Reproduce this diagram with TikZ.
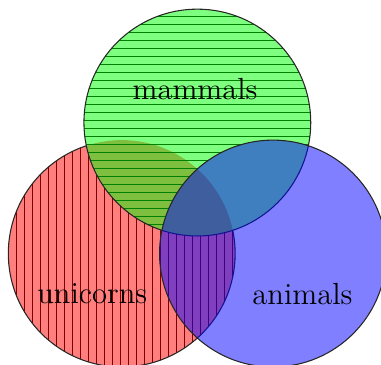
\documentclass[tikz,border=0pt]{standalone}
\begin{document}
\begin{tikzpicture}
\tikzset{
  setfill/.style={fill=#1, fill opacity=0.5},
  outline/.style={draw=black!85, line width=0.4pt},
  hatch/.style={draw=#1, line width=0.376pt},
  label/.style={font=\fontsize{11.5}{14}\selectfont, inner sep=0pt}
}
\useasboundingbox (-1.61,-1.462) rectangle (3.429,3.353);
\coordinate (R) at (0,0);
\coordinate (B) at (2,0);
\coordinate (G) at (1,1.732);
\def\rad{1.5}
\def\px{0.013226}
% red
\fill[setfill=red] (R) circle (\rad);
\begin{scope}
  \clip (R) circle (\rad);
  \clip (-3,-3) -- (5,-3) -- (5,5) -- (-3,5) -- cycle
        (G) ++(\rad,0) arc[start angle=0, end angle=-360, radius=\rad] -- cycle;
  \foreach \k in {0,...,32}
    \draw[hatch=red!50!black] ({-1.61+(8*\k+0.5)*\px},-1.6) -- ({-1.61+(8*\k+0.5)*\px},1.6);
\end{scope}
\begin{scope}
  \clip (-3,-3) -- (5,-3) -- (5,5) -- (-3,5) -- cycle
        (G) ++(\rad,0) arc[start angle=0, end angle=-360, radius=\rad] -- cycle;
  \draw[outline] (R) circle (\rad);
\end{scope}
% green
\fill[setfill=green] (G) circle (\rad);
\begin{scope}
  \clip (G) circle (\rad);
  \clip (-3,-3) -- (5,-3) -- (5,5) -- (-3,5) -- cycle
        (B) ++(\rad,0) arc[start angle=0, end angle=-360, radius=\rad] -- cycle;
  \foreach \k in {0,...,32}
    \draw[hatch=green!50!black] (-0.6,{3.353-(8*\k+0.5)*\px}) -- (2.6,{3.353-(8*\k+0.5)*\px});
\end{scope}
\draw[outline] (G) circle (\rad);
% blue
\fill[setfill=blue] (B) circle (\rad);
\draw[outline] (B) circle (\rad);
% labels
\node[label] (m) at (0.97,2.18) {mammals};
\node[label] (u) at (-0.39,-0.536) {unicorns};
\node[label] (a) at (2.39,-0.536) {animals};
\end{tikzpicture}
\end{document}
